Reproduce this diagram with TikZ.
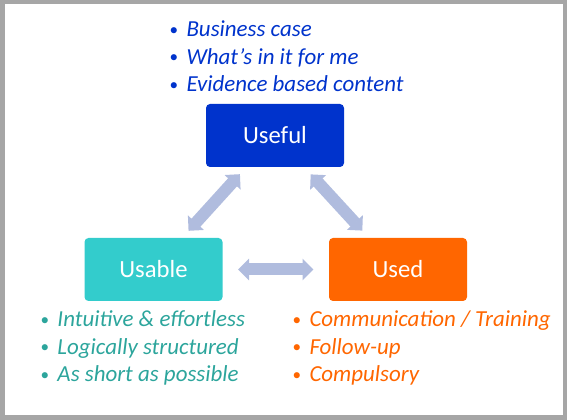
\documentclass[tikz,border=0pt]{standalone}
\usepackage{fontspec}
\usepackage{graphicx}
\setmainfont{Carlito}
\usetikzlibrary{arrows.meta}

\definecolor{usefulblue}{HTML}{0033CC}
\definecolor{usableteal}{HTML}{33CCCC}
\definecolor{usedorange}{HTML}{FF6600}
\definecolor{tealtext}{HTML}{2CA59C}
\definecolor{linkgray}{RGB}{176,188,222}
\definecolor{framegray}{HTML}{A6A6A6}

\newcommand{\bul}{\makebox[12.75pt][l]{\raisebox{1.2pt}{\scalebox{0.75}{\upshape •}}}}
\newcommand{\listfont}{\fontsize{17.2pt}{20.6pt}\selectfont\itshape}

\tikzset{every picture/.style={line width=0.75pt}}
\tikzset{
  box/.style={rounded corners=3pt, minimum width=103.5pt, minimum height=47.25pt,
    inner sep=0pt, text=white, font=\fontsize{18.5pt}{22pt}\selectfont},
  link/.style={draw=linkgray, line width=9pt,
    {Triangle[length=8.25pt,width=15.75pt]}-{Triangle[length=8.25pt,width=15.75pt]}},
}

\begin{document}
\begin{tikzpicture}[x=0.75pt,y=0.75pt,yscale=-1,xscale=1]
\useasboundingbox (0,0) rectangle (586,420);

%Frame
\draw [framegray, line width=3.375pt] (2.25,2.25) rectangle (564.75,417.75);

% Boxes
\node [box, fill=usefulblue] (useful) at (275,135.5) {Useful};
\node [box, fill=usableteal] (usable) at (153.5,269.5) {Usable};
\node [box, fill=usedorange] (used) at (398,269.5) {Used};

% Links
\draw [link, shorten <=6.75pt, shorten >=6.75pt] (usable) -- (useful);
\draw [link, shorten <=7pt, shorten >=7pt] (useful) -- (used);
\draw [link, shorten <=11.25pt, shorten >=11.25pt] (usable) -- (used);

% Text Node
\draw (169,37) node [anchor=base west][inner sep=0pt][font=\listfont, text=usefulblue] (usefullist)
  {\begin{tabular}[t]{@{}l@{}}\bul Business case\\ \bul What’s in it for me\\ \bul Evidence based content\end{tabular}};
% Text Node
\draw (40,327) node [anchor=base west][inner sep=0pt][font=\listfont, text=tealtext] (usablelist)
  {\begin{tabular}[t]{@{}l@{}}\bul Intuitive \& effortless\\ \bul Logically structured\\ \bul As short as possible\end{tabular}};
% Text Node
\draw (292,327) node [anchor=base west][inner sep=0pt][font=\listfont, text=usedorange] (usedlist)
  {\begin{tabular}[t]{@{}l@{}}\bul Communication / Training\\ \bul Follow-up\\ \bul Compulsory\end{tabular}};

\end{tikzpicture}
\end{document}
